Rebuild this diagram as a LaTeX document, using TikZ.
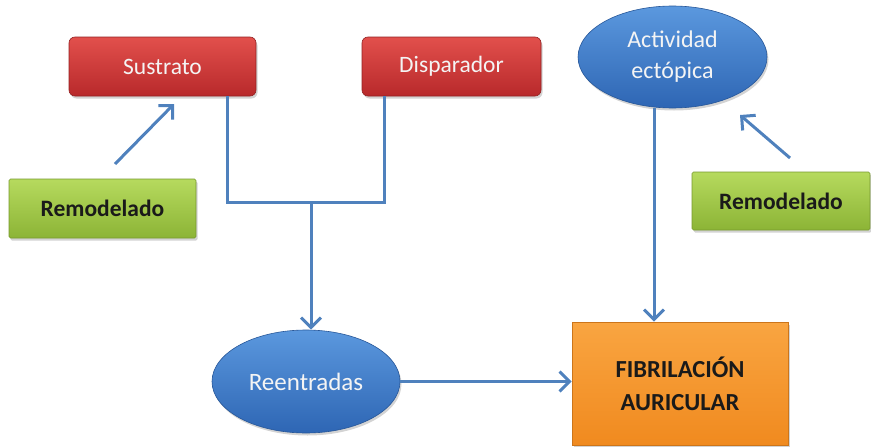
\documentclass[tikz,border=0pt]{standalone}
\usepackage{fontspec}
\setmainfont{Carlito}
\usetikzlibrary{arrows.meta,shapes.geometric,shadows}
\definecolor{conn}{HTML}{4F81BD}
\definecolor{redtop}{HTML}{E2504C}
\definecolor{redbot}{HTML}{B8292B}
\definecolor{bluetop}{HTML}{5B98DE}
\definecolor{bluebot}{HTML}{2E66B4}
\definecolor{greentop}{HTML}{B6DA5E}
\definecolor{greenbot}{HTML}{8CB436}
\definecolor{orangetop}{HTML}{F9A541}
\definecolor{orangebot}{HTML}{F08A1F}
\definecolor{lighttext}{HTML}{F4F4F4}
\definecolor{darktext}{HTML}{1A1A1A}
\tikzset{
  shad/.style={drop shadow={opacity=0.35,shadow xshift=1.5pt,shadow yshift=-2.5pt}},
  redbox/.style={shape=rectangle,rounded corners=6pt,top color=redtop,bottom color=redbot,
    draw=redbot!80!black,line width=0.6pt,inner sep=0pt,font=\fontsize{23.5}{27}\selectfont,text=lighttext,shad},
  greenbox/.style={shape=rectangle,rounded corners=1.5pt,top color=greentop,bottom color=greenbot,
    draw=greenbot!85!black,line width=0.6pt,inner sep=0pt,font=\bfseries\fontsize{23.5}{27}\selectfont,text=darktext,shad},
  blueell/.style={shape=ellipse,top color=bluetop,bottom color=bluebot,draw=bluebot!85!black,
    line width=0.6pt,inner sep=0pt,font=\fontsize{24}{31}\selectfont,text=lighttext,align=center,shad},
  orangebox/.style={shape=rectangle,top color=orangetop,bottom color=orangebot,draw=orangebot!85!black,
    line width=0.6pt,inner sep=0pt,font=\bfseries\fontsize{24.5}{33}\selectfont,text=darktext,align=center,shad},
  conline/.style={draw=conn,line width=3pt},
  conarrow/.style={conline,-{Straight Barb[length=10pt,width=20pt]}}
}
\begin{document}
\begin{tikzpicture}[x=1pt,y=-1pt]
\useasboundingbox (0,0) rectangle (871,447);
% nodes
\node[redbox,minimum width=187pt,minimum height=59pt] (sus) at (162.5,66.5) {Sustrato};
\node[redbox,minimum width=179pt,minimum height=59pt] (dis) at (451.5,66.5) {Disparador};
\node[blueell,minimum width=189pt,minimum height=102pt] (act) at (672.5,57) {Actividad\\ectópica};
\node[greenbox,minimum width=187pt,minimum height=59pt] (reml) at (102.5,208.5) {Remodelado};
\node[greenbox,minimum width=178pt,minimum height=58pt] (remr) at (781,201) {Remodelado};
\node[blueell,minimum width=188pt,minimum height=103pt,font=\fontsize{25}{30}\selectfont] (ree) at (306,381.5) {Reentradas};
\node[orangebox,minimum width=216pt,minimum height=123pt] (fib) at (680,383.5) {FIBRILACIÓN\\AURICULAR};
% junction coordinates
\coordinate (jl) at (227,202);
\coordinate (jr) at (384,202);
\coordinate (jm) at (311,202);
\coordinate (ja) at (654,0);
\coordinate (tl) at (174,104);
\coordinate (sl) at (115,164);
\coordinate (tr) at (740,115);
\coordinate (sr) at (790,158);
% connectors
\draw[conline,line join=miter] (sus.south -| jl) -- (jl) -- (jr) -- (dis.south -| jr);
\draw[conarrow] (jm) -- (ree.north -| jm);
\draw[conarrow] (ree.east) -- (fib.west |- ree.east);
\draw[conarrow] (act.south -| ja) -- (fib.north -| ja);
\draw[conarrow] (sl) -- (tl);
\draw[conarrow] (sr) -- (tr);
\end{tikzpicture}
\end{document}
